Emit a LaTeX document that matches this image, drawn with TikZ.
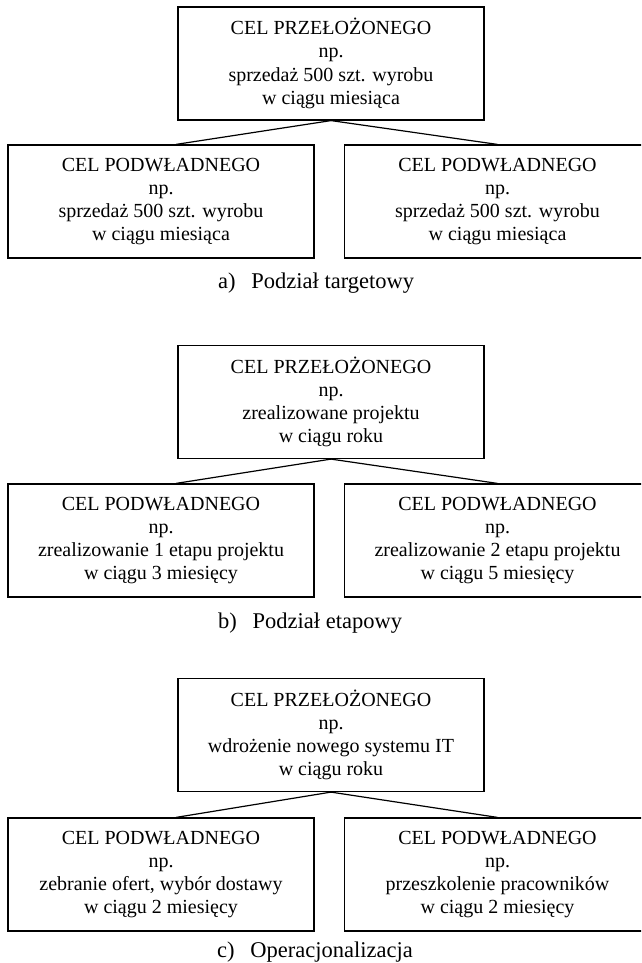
\documentclass[tikz,border=0pt]{standalone}
\usepackage{fontspec}
\setmainfont{Liberation Serif}
\usetikzlibrary{positioning}

\tikzset{
  goalbox/.style={draw, rectangle, line width=1.2pt, minimum width=306pt,
    minimum height=113pt, inner sep=0pt, align=center,
    font=\fontsize{20}{23.2}\selectfont},
  panelcap/.style={anchor=base west, inner sep=0pt, font=\fontsize{22.5}{26}\selectfont},
  link/.style={line width=1.2pt}
}

\begin{document}
\begin{tikzpicture}[x=1pt,y=-1pt]
\clip (0,0) rectangle (641,963);
\fill[white] (0,0) rectangle (641,963);

% panel a
\node[goalbox] (topA) at (331,63.5) {CEL PRZEŁOŻONEGO\\np.\\sprzedaż 500 szt. wyrobu\\w ciągu miesiąca};
\node[goalbox] (subAl) at (161,201.5) {CEL PODWŁADNEGO\\np.\\sprzedaż 500 szt. wyrobu\\w ciągu miesiąca};
\node[goalbox] (subAr) at (497.5,201.5) {CEL PODWŁADNEGO\\np.\\sprzedaż 500 szt. wyrobu\\w ciągu miesiąca};
\draw[link] (topA.south) -- ([xshift=15pt]subAl.north);
\draw[link] (topA.south) -- (subAr.north);
\node[panelcap] (capA) at (218,288) {a)\hspace{0.7em}Podział targetowy};

% panel b
\node[goalbox] (topB) at (331,402) {CEL PRZEŁOŻONEGO\\np.\\zrealizowane projektu\\w ciągu roku};
\node[goalbox] (subBl) at (161,540.5) {CEL PODWŁADNEGO\\np.\\zrealizowanie 1 etapu projektu\\w ciągu 3 miesięcy};
\node[goalbox] (subBr) at (497.5,540.5) {CEL PODWŁADNEGO\\np.\\zrealizowanie 2 etapu projektu\\w ciągu 5 miesięcy};
\draw[link] (topB.south) -- ([xshift=15pt]subBl.north);
\draw[link] (topB.south) -- (subBr.north);
\node[panelcap] (capB) at (218,628) {b)\hspace{0.7em}Podział etapowy};

% panel c
\node[goalbox] (topC) at (331,735) {CEL PRZEŁOŻONEGO\\np.\\wdrożenie nowego systemu IT\\w ciągu roku};
\node[goalbox] (subCl) at (161,874.5) {CEL PODWŁADNEGO\\np.\\zebranie ofert, wybór dostawy\\w ciągu 2 miesięcy};
\node[goalbox] (subCr) at (497.5,874.5) {CEL PODWŁADNEGO\\np.\\przeszkolenie pracowników\\w ciągu 2 miesięcy};
\draw[link] (topC.south) -- ([xshift=15pt]subCl.north);
\draw[link] (topC.south) -- (subCr.north);
\node[panelcap] (capC) at (217,957) {c)\hspace{0.7em}Operacjonalizacja};

\end{tikzpicture}
\end{document}
